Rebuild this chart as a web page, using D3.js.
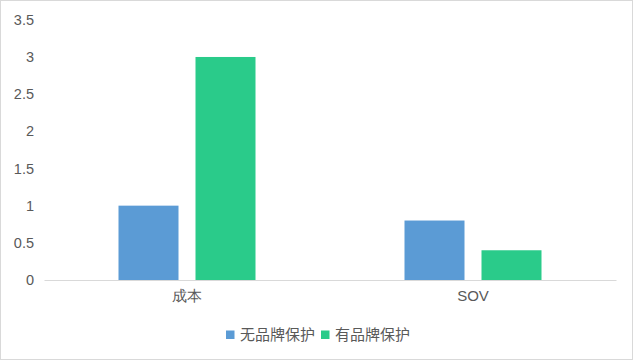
<!DOCTYPE html>
<html>
<head>
<meta charset="utf-8">
<script src="https://cdn.jsdelivr.net/npm/d3@7"></script>
<style>
  body { margin: 0; background: #fff; }
  svg { display: block; font-family: "Noto Sans CJK SC", "Noto Sans", sans-serif; }
</style>
</head>
<body>
<svg id="chart"></svg>
<script>
// chart data
const categories = ["成本", "SOV"];
const seriesNames = ["无品牌保护", "有品牌保护"];
const noProtect = [1, 0.8];
const withProtect = [3, 0.4];
const yTicks = [0, 0.5, 1, 1.5, 2, 2.5, 3, 3.5];

const colors = ["#5b9bd5", "#2acb8a"];

const width = 635;
const height = 362;
const plotLeft = 44;
const plotRight = 616;
const plotTop = 19.8;
const plotBottom = 280;

const svg = d3.select("#chart").attr("width", width).attr("height", height);

// outer border
svg.append("rect")
  .attr("x", 0.5).attr("y", 0.5)
  .attr("width", 632).attr("height", 359)
  .attr("fill", "#fff")
  .attr("stroke", "#d9d9d9");

const yScale = d3.scaleLinear().domain([0, 3.5]).range([plotBottom, plotTop]);

const x0 = d3.scaleBand().domain(categories).range([plotLeft, plotRight]).padding(0);
const x1 = d3.scaleBand()
  .domain(seriesNames)
  .range([0, x0.bandwidth()])
  .paddingInner(0.2208)
  .paddingOuter(0.9675);

// y tick labels (no gridlines in the reference)
const yAxis = d3.axisLeft(yScale).tickValues(yTicks).tickSize(0).tickPadding(10)
  .tickFormat(d3.format("~g"));
const gy = svg.append("g").attr("transform", "translate(" + plotLeft + ",0)").call(yAxis);
gy.select(".domain").remove();
gy.selectAll("text")
  .attr("fill", "#595959")
  .style("font-size", "14.5px")
  .attr("x", -10);

// bars
const rows = categories.map((c, i) => ({ cat: c, values: [noProtect[i], withProtect[i]] }));
const groups = svg.selectAll(".grp")
  .data(rows)
  .enter()
  .append("g")
  .attr("class", "grp")
  .attr("transform", (d) => "translate(" + x0(d.cat) + ",0)");

groups.selectAll("rect")
  .data((d) => d.values.map((v, j) => ({ name: seriesNames[j], value: v, idx: j })))
  .enter()
  .append("rect")
  .attr("x", (d) => x1(d.name))
  .attr("y", (d) => yScale(d.value))
  .attr("width", x1.bandwidth())
  .attr("height", (d) => plotBottom - yScale(d.value))
  .attr("fill", (d) => colors[d.idx]);

// x axis
const xAxis = d3.axisBottom(x0).tickSize(0).tickPadding(10);
const gx = svg.append("g").attr("transform", "translate(0," + plotBottom + ")").call(xAxis);
gx.select(".domain").attr("stroke", "#d9d9d9");
gx.selectAll("text")
  .attr("fill", "#595959")
  .style("font-size", "15px");

// legend
const legendItems = [
  { name: seriesNames[0], x: 226, color: colors[0] },
  { name: seriesNames[1], x: 321, color: colors[1] },
];
const legend = svg.append("g");
legendItems.forEach((it) => {
  legend.append("rect")
    .attr("x", it.x).attr("y", 330.5)
    .attr("width", 8.5).attr("height", 8.5)
    .attr("fill", it.color);
  legend.append("text")
    .attr("x", it.x + 14).attr("y", 335)
    .attr("dy", "0.35em")
    .attr("fill", "#595959")
    .style("font-size", "15px")
    .text(it.name);
});
</script>
</body>
</html>
